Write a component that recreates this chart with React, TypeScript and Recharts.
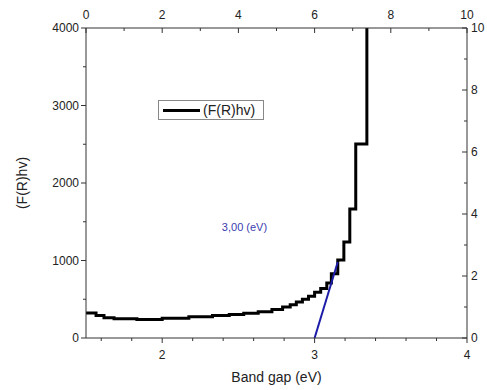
import { LineChart, Line, XAxis, YAxis, ReferenceDot } from 'recharts';

// (F(R)hv) stepped curve
const bandGap = [1.5, 1.566, 1.618, 1.684, 1.834, 2.0, 2.175, 2.33, 2.44, 2.535, 2.63, 2.72, 2.79, 2.84, 2.88, 2.92, 2.96, 3.0, 3.04, 3.08, 3.11, 3.152, 3.192, 3.231, 3.27, 3.343];
const frhv = [323, 290, 262, 248, 240, 255, 275, 290, 302, 318, 340, 368, 400, 430, 465, 500, 540, 590, 640, 710, 830, 1006, 1239, 1665, 2503, 4600];

// tangent line used for the gap estimate
const tangentX = [3.0, 3.152];
const tangentY = [0, 980];

const bottomTicks = [1.6, 1.8, 2, 2.2, 2.4, 2.6, 2.8, 3, 3.2, 3.4, 3.6, 3.8, 4];
const bottomLabels = [2, 3, 4];
const topTicks = [0, 1, 2, 3, 4, 5, 6, 7, 8, 9, 10];
const topLabels = [0, 2, 4, 6, 8, 10];
const leftTicks = [0, 500, 1000, 1500, 2000, 2500, 3000, 3500, 4000];
const leftLabels = [0, 1000, 2000, 3000, 4000];
const rightTicks = [0, 1, 2, 3, 4, 5, 6, 7, 8, 9, 10];
const rightLabels = [0, 2, 4, 6, 8, 10];

// empty frame for the secondary (top/right) axes
const frameX = [0, 10];
const frameY = [0, 10];

const curve = bandGap.map((x, i) => ({ x, y: frhv[i] }));
const tangent = tangentX.map((x, i) => ({ x, y: tangentY[i] }));
const frame = frameX.map((x, i) => ({ x, y: frameY[i] }));

const FONT = '"Liberation Sans", Arial, sans-serif';
const AXIS = '#333';
const TXT = '#222';

const isMajor = (v: number, list: number[]) => list.some((m) => Math.abs(m - v) < 1e-6);

function BottomTick({ x, y, payload }: any) {
  const major = isMajor(payload.value, bottomLabels);
  return (
    <g>
      <line x1={x} x2={x} y1={y} y2={y + (major ? 5 : 3)} stroke={AXIS} />
      {major && (
        <text x={x} y={y + 21} textAnchor="middle" fontSize={12} fill={TXT} fontFamily={FONT}>
          {payload.value}
        </text>
      )}
    </g>
  );
}

function TopTick({ x, y, payload }: any) {
  const major = isMajor(payload.value, topLabels);
  return (
    <g>
      <line x1={x} x2={x} y1={y} y2={y + (major ? 5 : 3)} stroke={AXIS} />
      {major && (
        <text x={x} y={y - 9} textAnchor="middle" fontSize={12} fill={TXT} fontFamily={FONT}>
          {payload.value}
        </text>
      )}
    </g>
  );
}

function LeftTick({ x, y, payload }: any) {
  const major = isMajor(payload.value, leftLabels);
  return (
    <g>
      <line x1={x - (major ? 5 : 3)} x2={x} y1={y} y2={y} stroke={AXIS} />
      {major && (
        <text x={x - 7} y={y + 4} textAnchor="end" fontSize={12} fill={TXT} fontFamily={FONT}>
          {payload.value}
        </text>
      )}
    </g>
  );
}

function RightTick({ x, y, payload }: any) {
  const major = isMajor(payload.value, rightLabels);
  return (
    <g>
      <line x1={x - (major ? 5 : 3)} x2={x} y1={y} y2={y} stroke={AXIS} />
      {major && (
        <text x={x + 4} y={y + 4} textAnchor="start" fontSize={12} fill={TXT} fontFamily={FONT}>
          {payload.value}
        </text>
      )}
    </g>
  );
}

function YTitle({ viewBox }: any) {
  const cx = viewBox.x + 8;
  const cy = viewBox.y + viewBox.height / 2;
  return (
    <text x={cx} y={cy} transform={`rotate(-90 ${cx} ${cy})`} textAnchor="middle" dominantBaseline="central" fontSize={14} fill={TXT} fontFamily={FONT}>
      (F(R)hv)
    </text>
  );
}

function XTitle({ viewBox }: any) {
  return (
    <text x={viewBox.x + viewBox.width / 2} y={viewBox.y + 44} textAnchor="middle" fontSize={14} fill={TXT} fontFamily={FONT}>
      Band gap (eV)
    </text>
  );
}

function GapLabel({ viewBox }: any) {
  return (
    <text x={viewBox.x} y={viewBox.y} textAnchor="middle" dominantBaseline="central" fontSize={11} fill="#3b3bb0" fontFamily={FONT}>
      3,00 (eV)
    </text>
  );
}

export default function App() {
  return (
    <div style={{ position: 'absolute', left: 0, top: 0, width: 487, height: 390, background: '#fff' }}>
      <LineChart width={487} height={390} margin={{ top: 8, right: 0, bottom: 12, left: 14 }}>
        <XAxis
          xAxisId="b"
          type="number"
          dataKey="x"
          domain={[1.5, 4]}
          ticks={bottomTicks}
          allowDataOverflow
          height={40}
          tickSize={0}
          tickMargin={0}
          tickLine={false}
          tick={<BottomTick />}
          axisLine={{ stroke: AXIS }}
          label={<XTitle />}
        />
        <XAxis
          xAxisId="t"
          orientation="top"
          type="number"
          dataKey="x"
          domain={[0, 10]}
          ticks={topTicks}
          height={20}
          tickSize={0}
          tickMargin={0}
          tickLine={false}
          tick={<TopTick />}
          axisLine={{ stroke: AXIS }}
        />
        <YAxis
          yAxisId="l"
          type="number"
          domain={[0, 4000]}
          ticks={leftTicks}
          allowDataOverflow
          width={72}
          tickSize={0}
          tickMargin={0}
          tickLine={false}
          tick={<LeftTick />}
          axisLine={{ stroke: AXIS }}
          label={<YTitle />}
        />
        <YAxis
          yAxisId="r"
          orientation="right"
          type="number"
          domain={[0, 10]}
          ticks={rightTicks}
          width={20}
          tickSize={0}
          tickMargin={0}
          tickLine={false}
          tick={<RightTick />}
          axisLine={{ stroke: AXIS }}
        />
        <Line
          xAxisId="t"
          yAxisId="r"
          data={frame}
          dataKey="y"
          stroke="none"
          dot={false}
          activeDot={false}
          legendType="none"
          isAnimationActive={false}
        />
        <Line
          xAxisId="b"
          yAxisId="l"
          data={curve}
          dataKey="y"
          type="stepAfter"
          stroke="#000"
          strokeWidth={3}
          dot={false}
          isAnimationActive={false}
        />
        <Line
          xAxisId="b"
          yAxisId="l"
          data={tangent}
          dataKey="y"
          type="linear"
          stroke="#1c1ca8"
          strokeWidth={2}
          dot={false}
          isAnimationActive={false}
        />
        <ReferenceDot xAxisId="b" yAxisId="l" x={2.54} y={1430} r={0} fill="none" stroke="none" label={<GapLabel />} />
      </LineChart>
      <div
        style={{
          position: 'absolute',
          left: 158,
          top: 100,
          width: 104,
          height: 18,
          border: '1px solid #888',
          display: 'flex',
          alignItems: 'center',
          fontFamily: FONT,
          fontSize: 14,
          color: TXT,
          background: '#fff',
        }}
      >
        <span style={{ display: 'inline-block', width: 37, height: 3, background: '#000', marginLeft: 4, marginRight: 3 }} />
        <span>(F(R)hv)</span>
      </div>
    </div>
  );
}
